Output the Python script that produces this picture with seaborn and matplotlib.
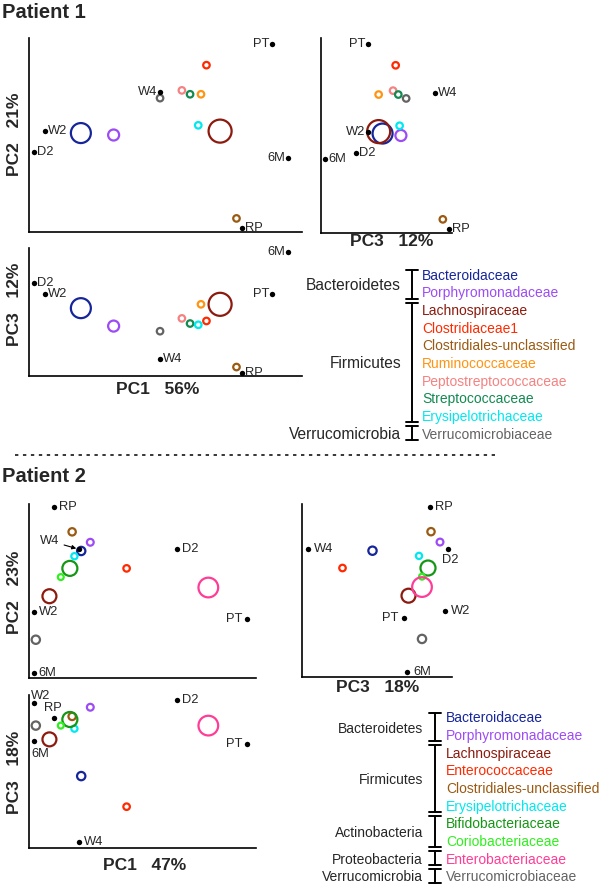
import matplotlib
matplotlib.use("Agg")
import matplotlib.pyplot as plt
import seaborn as sns

# ---------------- Patient 1 (scores, scaled to the axis range) ----------------
p1_samples = ["PT", "W4", "W2", "D2", "6M", "RP"]
p1_samp_pc1 = [0.89, 0.48, 0.06, 0.02, 0.95, 0.78]
p1_samp_pc2 = [0.97, 0.72, 0.52, 0.41, 0.38, 0.02]
p1_samp_pc3 = [0.36, 0.87, 0.36, 0.27, 0.03, 0.98]

p1_taxa = ["Bacteroidaceae", "Porphyromonadaceae", "Lachnospiraceae", "Clostridiaceae1",
           "Clostridiales-unclassified", "Ruminococcaceae", "Peptostreptococcaceae",
           "Streptococcaceae", "Erysipelotrichaceae", "Verrucomicrobiaceae"]
p1_taxa_pc1 = [0.19, 0.31, 0.70, 0.65, 0.76, 0.63, 0.56, 0.59, 0.62, 0.48]
p1_taxa_pc2 = [0.51, 0.50, 0.52, 0.86, 0.07, 0.71, 0.73, 0.71, 0.55, 0.69]
p1_taxa_pc3 = [0.47, 0.61, 0.44, 0.57, 0.93, 0.44, 0.55, 0.59, 0.60, 0.65]
p1_taxa_size = [207, 63, 275, 22, 22, 22, 22, 22, 22, 22]
p1_phyla = ["Bacteroidetes", "Firmicutes", "Verrucomicrobia"]
p1_phyla_n = [2, 7, 1]
p1_var = {"PC1": "56%", "PC2": "21%", "PC3": "12%"}

# ---------------- Patient 2 ----------------
p2_samples = ["RP", "W4", "D2", "W2", "PT", "6M"]
p2_samp_pc1 = [0.11, 0.22, 0.65, 0.02, 0.96, 0.02]
p2_samp_pc2 = [0.98, 0.74, 0.74, 0.38, 0.34, 0.03]
p2_samp_pc3 = [0.85, 0.04, 0.97, 0.95, 0.68, 0.70]

p2_taxa = ["Bacteroidaceae", "Porphyromonadaceae", "Lachnospiraceae", "Enterococcaceae",
           "Clostridiales-unclassified", "Erysipelotrichaceae", "Bifidobacteriaceae",
           "Coriobacteriaceae", "Enterobacteriaceae", "Verrucomicrobiaceae"]
p2_taxa_pc1 = [0.23, 0.27, 0.09, 0.43, 0.19, 0.20, 0.18, 0.14, 0.79, 0.03]
p2_taxa_pc2 = [0.73, 0.78, 0.47, 0.63, 0.84, 0.70, 0.63, 0.58, 0.52, 0.22]
p2_taxa_pc3 = [0.47, 0.92, 0.71, 0.27, 0.86, 0.78, 0.84, 0.80, 0.80, 0.80]
p2_taxa_size = [36, 24, 101, 22, 28, 20, 117, 18, 201, 36]
p2_phyla = ["Bacteroidetes", "Firmicutes", "Actinobacteria", "Proteobacteria", "Verrucomicrobia"]
p2_phyla_n = [2, 4, 2, 1, 1]
p2_var = {"PC1": "47%", "PC2": "23%", "PC3": "18%"}

colors = {
    "Bacteroidaceae": "#16269a",
    "Porphyromonadaceae": "#9d4cf5",
    "Lachnospiraceae": "#8c1a0e",
    "Clostridiaceae1": "#ff2a00",
    "Enterococcaceae": "#ff2a00",
    "Clostridiales-unclassified": "#9a5a12",
    "Ruminococcaceae": "#ff9412",
    "Peptostreptococcaceae": "#f58282",
    "Streptococcaceae": "#128a50",
    "Erysipelotrichaceae": "#00e8f0",
    "Verrucomicrobiaceae": "#636363",
    "Bifidobacteriaceae": "#159615",
    "Coriobacteriaceae": "#2ff01e",
    "Enterobacteriaceae": "#ff3d96",
}

sns.set_style("white")
plt.rcParams["font.family"] = ["Liberation Sans", "DejaVu Sans"]

W, H = 600, 885
fig = plt.figure(figsize=(W / 100, H / 100), dpi=100)

# overlay in pixel coordinates for titles, axis captions and the legends
ov = fig.add_axes([0, 0, 1, 1])
ov.set_xlim(0, W)
ov.set_ylim(H, 0)
ov.axis("off")


def panel(x0, y0, x1, y1):
    ax = fig.add_axes([x0 / W, 1 - y1 / H, (x1 - x0) / W, (y1 - y0) / H])
    ax.set_facecolor("none")
    return ax


# label offsets in pixels: (dx, dy, ha)
def offsets(code, gap):
    return {
        "r": (gap, 0, "left"),
        "l": (-gap, 0, "right"),
        "d": (3, -11, "center"),
        "u": (-1, 10, "center"),
        "ur": (-3, 7, "left"),
        "dr": (-2, -13, "left"),
    }[code]


def draw_panel(ax, sx, sy, tx, ty, taxa, sizes, names, places, gap, invert=False):
    for i, t in enumerate(taxa):
        sns.scatterplot(x=[tx[i]], y=[ty[i]], s=sizes[i], facecolor="none",
                        edgecolor=colors[t], linewidth=1.6, ax=ax, clip_on=False, zorder=3)
    sns.scatterplot(x=sx, y=sy, s=15, color="black", linewidth=0, ax=ax,
                    clip_on=False, zorder=4)
    for name, x, y in zip(names, sx, sy):
        code = places[name]
        if code == "arrow":
            ax.annotate(name, xy=(x, y), xytext=(-14, 6), textcoords="offset points",
                        ha="right", va="center", fontsize=9.3,
                        arrowprops=dict(arrowstyle="-|>", color="black", lw=0.8,
                                        mutation_scale=6, shrinkA=1, shrinkB=2))
            continue
        dx, dy, ha = offsets(code, gap)
        ax.annotate(name, xy=(x, y), xytext=(dx * 0.72, dy * 0.72), textcoords="offset points",
                    ha=ha, va="center", fontsize=9.3)
    ax.set_xlim(0, 1)
    if invert:
        ax.set_ylim(1, 0)
    else:
        ax.set_ylim(0, 1)
    ax.set_xticks([])
    ax.set_yticks([])
    ax.set_xlabel("")
    ax.set_ylabel("")
    sns.despine(ax=ax)
    for sp in ("left", "bottom"):
        ax.spines[sp].set_linewidth(1.2)
        ax.spines[sp].set_color("black")


def draw_legend(taxa, phyla, counts, y0, step, xbar, xtext, xphy, phy_fs):
    ys = [y0 + i * step for i in range(len(taxa))]
    for t, y in zip(taxa, ys):
        ov.text(xtext, y, t, color=colors[t], fontsize=10, va="center_baseline", ha="left")
    start = 0
    for ph, n in zip(phyla, counts):
        first, last = start, start + n - 1
        top = ys[first] - 4 if first == 0 else (ys[first - 1] + ys[first]) / 2 + 2
        bot = ys[last] + 7 if last == len(taxa) - 1 else (ys[last] + ys[last + 1]) / 2 - 2
        ov.plot([xbar, xbar], [top, bot], color="black", lw=1.4)
        for yy in (top, bot):
            ov.plot([xbar - 6, xbar + 6], [yy, yy], color="black", lw=1.4)
        ov.text(xphy, (top + bot) / 2, ph, ha="right", va="center_baseline", fontsize=phy_fs)
        start += n


def caption(x, y, pc, var, rot=0):
    ov.text(x, y, f"{pc}   {var[pc]}", ha="center", va="center", fontsize=12.5,
            fontweight="bold", rotation=rot)


# ---------------- Patient 1 ----------------
ov.text(2, 12, "Patient 1", fontsize=14.5, fontweight="bold", ha="left", va="center")

axA = panel(29, 38, 302, 232)
draw_panel(axA, p1_samp_pc1, p1_samp_pc2, p1_taxa_pc1, p1_taxa_pc2, p1_taxa, p1_taxa_size,
           p1_samples, {"PT": "l", "W4": "l", "W2": "r", "D2": "r", "6M": "l", "RP": "r"}, 3)
axB = panel(321, 38, 452, 233)
draw_panel(axB, p1_samp_pc3, p1_samp_pc2, p1_taxa_pc3, p1_taxa_pc2, p1_taxa, p1_taxa_size,
           p1_samples, {"PT": "l", "W4": "r", "W2": "l", "D2": "r", "6M": "r", "RP": "r"}, 3)
axC = panel(29, 248, 302, 376)
draw_panel(axC, p1_samp_pc1, p1_samp_pc3, p1_taxa_pc1, p1_taxa_pc3, p1_taxa, p1_taxa_size,
           p1_samples, {"PT": "l", "W4": "r", "W2": "r", "D2": "r", "6M": "l", "RP": "r"}, 3,
           invert=True)

caption(14.5, 134, "PC2", p1_var, rot=90)
caption(14.5, 304, "PC3", p1_var, rot=90)
caption(158, 390, "PC1", p1_var)
caption(392, 242, "PC3", p1_var)

draw_legend(p1_taxa, p1_phyla, p1_phyla_n, 274, 17.7, 412, 422, 401, 11.2)

ov.plot([15, 495], [455, 455], color="black", lw=1.1, linestyle=(0, (2.2, 3.0)))

# ---------------- Patient 2 ----------------
ov.text(2, 477, "Patient 2", fontsize=14.5, fontweight="bold", ha="left", va="center")

axD = panel(29, 504, 256, 678)
draw_panel(axD, p2_samp_pc1, p2_samp_pc2, p2_taxa_pc1, p2_taxa_pc2, p2_taxa, p2_taxa_size,
           p2_samples, {"RP": "r", "W4": "arrow", "D2": "r", "W2": "r", "PT": "l", "6M": "r"}, 5)
axE = panel(302, 504, 452, 677)
draw_panel(axE, p2_samp_pc3, p2_samp_pc2, p2_taxa_pc3, p2_taxa_pc2, p2_taxa, p2_taxa_size,
           p2_samples, {"RP": "r", "W4": "r", "D2": "d", "PT": "l", "W2": "r", "6M": "r"}, 6)
axF = panel(29, 695, 256, 848)
draw_panel(axF, p2_samp_pc1, p2_samp_pc3, p2_taxa_pc1, p2_taxa_pc3, p2_taxa, p2_taxa_size,
           p2_samples, {"W2": "ur", "RP": "u", "6M": "dr", "D2": "r", "PT": "l", "W4": "r"}, 5)

caption(14.5, 592, "PC2", p2_var, rot=90)
caption(14.5, 772, "PC3", p2_var, rot=90)
caption(145, 866, "PC1", p2_var)
caption(378, 687, "PC3", p2_var)

draw_legend(p2_taxa, p2_phyla, p2_phyla_n, 717, 17.65, 435, 446, 423, 10)

fig.savefig("out.png", dpi=100)
